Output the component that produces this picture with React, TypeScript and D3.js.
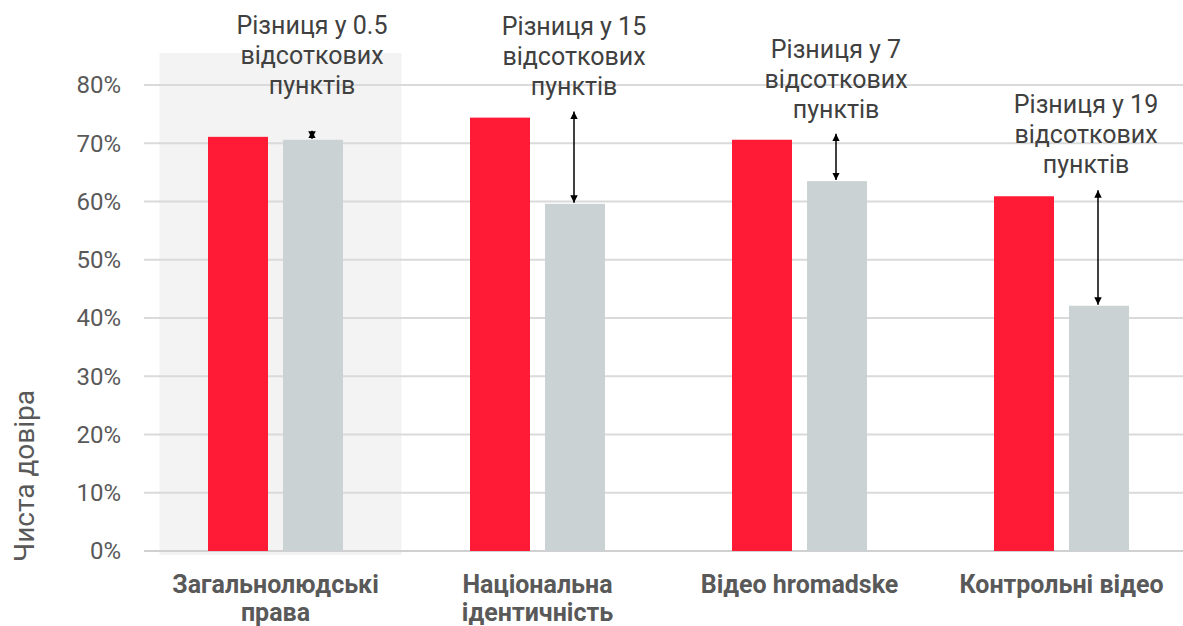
import React, { useEffect, useRef } from 'react';
import * as d3 from 'd3';

const categories = ['Загальнолюдські права', 'Національна ідентичність', 'Відео hromadske', 'Контрольні відео'];
const labelLines = [['Загальнолюдські', 'права'], ['Національна', 'ідентичність'], ['Відео hromadske'], ['Контрольні відео']];
const series = ['a', 'b'];
const redValues = [71.1, 74.4, 70.6, 60.9];
const greyValues = [70.6, 59.6, 63.5, 42.1];
const diffLabels = ['0.5', '15', '7', '19'];
const yTicks = [0, 10, 20, 30, 40, 50, 60, 70, 80];

const W = 1183;
const H = 626;

const App: React.FC = () => {
  const svgRef = useRef<SVGSVGElement>(null);

  useEffect(() => {
    if (!svgRef.current) return;
    const svg = d3.select(svgRef.current);
    svg.selectAll('*').remove();

    const font = 'Roboto, "Noto Sans", sans-serif';
    const y = d3.scaleLinear().domain([0, 80]).range([551, 85]);
    const x0 = d3.scaleBand<string>().domain(categories).range([144.5, 1192.5]).padding(0);
    const x1 = d3.scaleBand<string>().domain(series).range([63.5, 198.5]).paddingInner(0.2);

    // highlighted first group
    svg.append('rect')
      .attr('x', x0(categories[0])! + 15)
      .attr('y', 53)
      .attr('width', 242)
      .attr('height', 502)
      .attr('fill', '#f3f3f3');

    // grid
    svg.append('g')
      .selectAll('line')
      .data(yTicks)
      .enter()
      .append('line')
      .attr('x1', 144)
      .attr('x2', W)
      .attr('y1', (d) => y(d))
      .attr('y2', (d) => y(d))
      .attr('stroke', (d) => (d === 0 ? '#d0d0d0' : '#dadada'))
      .attr('stroke-width', 2);

    svg.append('g')
      .selectAll('text')
      .data(yTicks)
      .enter()
      .append('text')
      .attr('x', 121)
      .attr('y', (d) => y(d))
      .attr('dy', '0.35em')
      .attr('text-anchor', 'end')
      .attr('font-family', font)
      .attr('font-size', 24)
      .attr('fill', '#595959')
      .text((d) => `${d}%`);

    svg.append('text')
      .attr('transform', 'translate(34,476) rotate(-90)')
      .attr('text-anchor', 'middle')
      .attr('font-family', font)
      .attr('font-size', 28)
      .attr('fill', '#595959')
      .text('Чиста довіра');

    const groups = svg.append('g')
      .selectAll('g')
      .data(categories)
      .enter()
      .append('g')
      .attr('transform', (d) => `translate(${x0(d)},0)`);

    groups.append('rect')
      .attr('x', x1('a')!)
      .attr('width', x1.bandwidth())
      .attr('y', (_, i) => y(redValues[i]))
      .attr('height', (_, i) => y(0) - y(redValues[i]))
      .attr('fill', '#ff1a35');

    groups.append('rect')
      .attr('x', x1('b')!)
      .attr('width', x1.bandwidth())
      .attr('y', (_, i) => y(greyValues[i]))
      .attr('height', (_, i) => y(0) - y(greyValues[i]))
      .attr('fill', '#cbd2d4');

    // arrow markers
    const defs = svg.append('defs');
    defs.append('marker')
      .attr('id', 'arr')
      .attr('viewBox', '0 0 10 10')
      .attr('refX', 10)
      .attr('refY', 5)
      .attr('markerWidth', 5)
      .attr('markerHeight', 5)
      .attr('orient', 'auto-start-reverse')
      .append('path')
      .attr('d', 'M0,0 L10,5 L0,10 z')
      .attr('fill', '#000');

    const ax = x1('b')! + x1.bandwidth() / 2 - 1;
    groups.append('line')
      .attr('x1', ax)
      .attr('x2', ax)
      .attr('y1', (_, i) => y(redValues[i]) - 6)
      .attr('y2', (_, i) => y(greyValues[i]) - 1)
      .attr('stroke', '#000')
      .attr('stroke-width', 1.5)
      .attr('marker-start', 'url(#arr)')
      .attr('marker-end', 'url(#arr)');

    // annotation text
    const textShift = [0, 0, 0, -12];
    const textTop = [34, 35, 58, 113];
    groups.each(function (_, i) {
      const t = d3.select(this).append('text')
        .attr('text-anchor', 'middle')
        .attr('font-family', font)
        .attr('font-size', 25)
        .attr('fill', '#404040');
      [`Різниця у ${diffLabels[i]}`, 'відсоткових', 'пунктів'].forEach((s, j) => {
        t.append('tspan')
          .attr('x', ax + textShift[i])
          .attr('y', textTop[i] + j * 30)
          .text(s);
      });
    });

    // category labels
    groups.each(function (_, i) {
      const t = d3.select(this).append('text')
        .attr('text-anchor', 'middle')
        .attr('font-family', font)
        .attr('font-size', 25)
        .attr('font-weight', 'bold')
        .attr('fill', '#595959');
      labelLines[i].forEach((s, j) => {
        t.append('tspan')
          .attr('x', x0.bandwidth() / 2)
          .attr('y', 593 + j * 28)
          .text(s);
      });
    });
  }, []);

  return <svg ref={svgRef} width={W} height={H} style={{ position: 'absolute', left: 0, top: 0, background: '#fff' }} />;
};

export default App;
